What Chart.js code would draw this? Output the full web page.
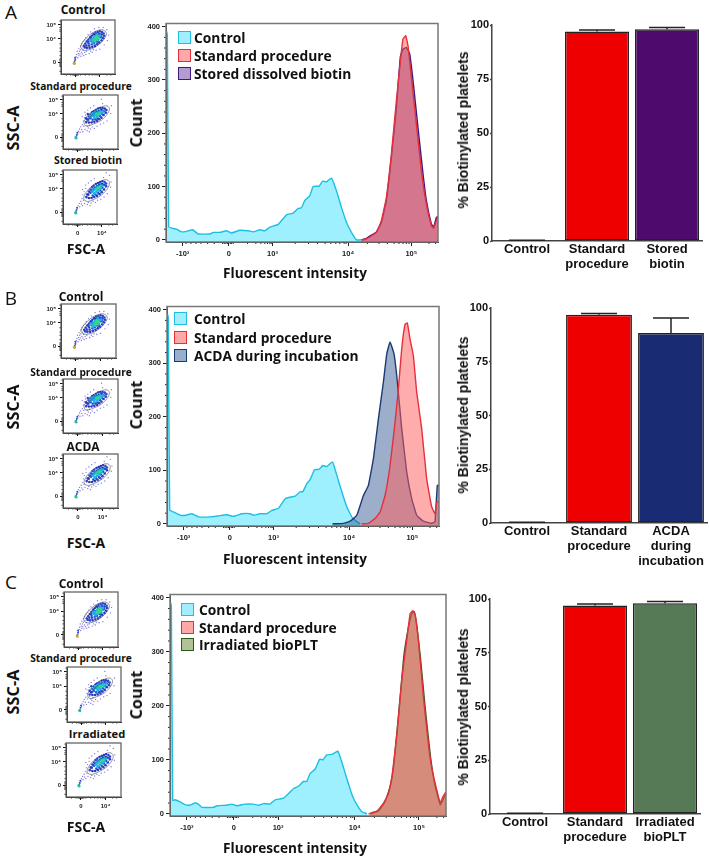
<!DOCTYPE html>
<html>
<head>
<meta charset="utf-8">
<title>Biotinylated platelets</title>
<script src="https://cdn.jsdelivr.net/npm/chart.js@4"></script>
<style>
  html, body { margin: 0; padding: 0; background: #fff; }
  #page { position: relative; width: 709px; height: 858px; overflow: hidden; }
  canvas { position: absolute; }
  canvas.dots { filter: blur(0.35px); }
  .txt { position: absolute; white-space: nowrap; color: #111; font-family: "Open Sans", sans-serif; font-weight: 700; transform: translate(-50%, -50%); }
  .swatch { position: absolute; box-sizing: border-box; width: 13px; height: 13px; border-width: 1.5px; border-style: solid; }
  .legend-text { position: absolute; white-space: nowrap; color: #111; font: 700 13.8px "Open Sans", sans-serif; transform: translateY(-50%); }
</style>
</head>
<body>
<div id="page"></div>
<script>
// Histogram data: x is the instrument channel (0-817 across the plot), y is the count
const controlAX = [1.5,4,8,17,32,47,62,80,97,132,142,162,182,197,222,247,262,282,297,312,337,362,382,397,407,417,432,442,460,470,482,497,512,527,542,557,572,587];
const controlAY = [392,385,24,22,20,15,16,19,11,11,14,14,17,13,18,17,15,19,17,24,29,47,50,59,60,74,83,100,101,110,109,116,92,61,33,14,0,0];
const standardAX = [587,602,632,647,662,677,692,704,712,720,727,737,752,767,782,797,804,812,817];
const standardAY = [0,2,14,36,80,161,261,336,377,383,364,305,217,130,67,27,22,36,42];
const storedX = [587,602,632,647,662,677,692,704,712,722,732,742,757,772,782,797,804,812,817];
const storedY = [0,3,15,33,74,155,248,344,358,361,349,299,210,124,74,30,24,42,44];

const controlBX = [1.5,4,8,20,40,55,75,95,130,155,180,200,225,250,260,280,300,315,335,355,385,400,408,420,430,443,457,468,480,497,510,525,540,558,580];
const controlBY = [392,385,26,22,16,16,19,13,13,15,17,14,19,19,16,19,19,25,29,47,52,60,60,75,83,101,102,109,107,116,91,60,32,10,0];
const standardBX = [585,605,625,640,655,670,685,695,705,715,722,730,740,750,765,780,795,805,810,818];
const standardBY = [0,1,10,22,53,109,190,252,327,373,375,345,314,246,178,84,32,19,41,42];
const acdaX = [497,530,550,570,590,605,620,635,650,660,670,682,692,705,720,735,750,770,795,805,812,818];
const acdaY = [0,1,5,16,53,72,122,196,265,317,340,317,265,178,97,47,16,5,1,4,72,72];

const controlCX = [1.5,4,8,15,30,44,59,74,84,94,128,140,168,183,198,222,247,262,277,296,311,336,366,380,395,405,415,430,443,453,464,479,497,509,524,539,553,568,583];
const controlCY = [392,385,25,26,22,17,16,20,18,12,12,15,16,18,15,18,18,16,19,18,26,29,47,51,60,60,75,83,101,100,109,110,116,95,64,35,17,4,0];
const standardCX = [588,613,632,647,657,672,687,702,711,719,726,736,751,766,776,791,800,808,817];
const standardCY = [0,5,20,38,69,149,254,328,371,376,368,316,211,124,81,41,20,32,41];
const irradiatedX = [593,618,637,652,662,677,692,706,716,723,731,741,756,771,785,800,808,817];
const irradiatedY = [0,6,23,51,88,186,291,346,371,374,346,291,192,106,51,17,26,38];

const histYTicks = [0,100,200,300,400];
const histYMinor = [20,40,60,80,120,140,160,180,220,240,260,280,320,340,360,380];
const histXTicks = [50,189,320,547,737];
const histXLabels = ['-10³','0','10³','10⁴','10⁵'];
const histXMinor = [60,75,90,105,125,145,170,175,180,185,193,197,202,245,270,285,297,305,312,316,388,428,455,478,495,510,522,535,541,605,640,665,685,700,712,722,730,790,810];

// Bar data
const barLabelsA = ['Control',['Standard','procedure'],['Stored','biotin']];
const barValuesA = [0.3,97,98];
const barErrorsA = [0.4,97.7,98.9];
const barLabelsB = ['Control',['Standard','procedure'],['ACDA','during','incubation']];
const barValuesB = [0.3,96.9,88.4];
const barErrorsB = [0.4,97.5,95.4];
const barLabelsC = ['Control',['Standard','procedure'],['Irradiated','bioPLT']];
const barValuesC = [0.3,97,98];
const barErrorsC = [0.4,97.7,98.8];
const barTicks = [0,25,50,75,100];

// Dot plots, both axes in channel percent. null entries break the contour line
const contourControl = [[36,50],[40,59],[47,67],[55,74],[64,79],[74,82],[81,80],[84,75],[82,68],[76,60],[68,53],[58,47],[48,44],[40,45],[36,50],null,[42,54],[50,64],[60,72],[72,76],[78,72],[73,62],[63,54],[52,50],[44,51],[42,54]];
const sparseControl = [[27,28],[28,32],[29,36],[31,30],[32,38],[33,34],[34,42],[35,37],[36,45],[37,33],[38,40],[39,48],[40,37],[41,44],[42,34],[44,40],[46,36],[47,42],[30,42],[33,47],[36,52],[38,56],[41,60],[44,63],[46,67],[52,38],[55,42],[58,40],[50,73],[55,78],[62,84],[70,86],[78,86],[85,82],[88,72],[86,62],[80,54],[72,46],[65,44],[60,45]];
const blueControl = [[42,52],[45,56],[48,60],[51,64],[54,68],[57,71],[60,74],[64,77],[68,78],[72,79],[76,78],[79,75],[80,71],[78,66],[75,62],[71,58],[67,55],[63,52],[58,50],[53,48],[48,48],[44,49],[47,53],[51,57],[55,61],[59,65],[63,69],[67,72],[71,74],[75,73],[73,68],[69,64],[65,60],[61,57],[57,55],[52,53],[50,60],[56,66],[62,73],[68,60],[74,70]];
const cyanControl = [[54,62],[57,64],[60,60],[63,63],[66,66],[69,69],[72,71],[62,68],[66,72],[58,58],[68,63]];
const greenControl = [[61,64],[64,66],[67,69],[63,61],[66,63],[69,66],[65,69]];
const originControl = [[25,22],[26,26],[26,30]];
const spotControl = [[24,20],[25,19]];

const contourStandard = [[38,50],[42,58],[50,67],[60,74],[70,78],[79,80],[84,76],[83,69],[76,59],[66,51],[55,46],[46,43],[40,44],[38,50],null,[44,53],[52,62],[62,70],[72,74],[78,71],[72,62],[62,54],[52,50],[46,49],[44,53]];
const sparseStandard = [[27,28],[28,33],[30,37],[31,31],[32,41],[34,36],[35,45],[36,32],[37,52],[38,42],[39,58],[40,36],[41,63],[42,47],[44,34],[46,39],[48,32],[50,37],[53,41],[57,38],[62,42],[35,60],[40,68],[45,72],[50,76],[56,80],[70,92],[72,84],[88,80],[87,66],[80,52],[74,48],[68,46],[44,42],[48,44]];
const blueStandard = [[42,50],[44,55],[47,60],[50,64],[53,68],[56,70],[60,72],[64,75],[68,76],[72,76],[76,75],[79,72],[78,67],[74,63],[70,58],[66,55],[62,52],[57,50],[52,49],[47,49],[46,54],[50,57],[53,62],[57,65],[60,67],[65,70],[70,72],[74,70],[71,65],[67,61],[63,57],[59,55],[54,54],[42,57],[45,65]];
const cyanStandard = [[50,60],[53,64],[56,61],[58,66],[60,63],[63,67],[65,64],[67,69],[69,66],[72,69],[62,60],[57,58],[55,66],[60,69]];
const greenStandard = [[60,65],[63,64],[66,66]];
const originStandard = [[24,22],[25,26],[26,30]];
const spotStandard = [[24,20],[23,21]];

const contourStored = [[38,48],[41,56],[48,65],[57,73],[68,78],[78,82],[85,79],[85,71],[79,61],[69,52],[58,46],[48,42],[41,43],[38,48],null,[44,52],[52,62],[62,70],[73,75],[80,72],[74,62],[63,54],[53,49],[46,48],[44,52]];
const sparseStored = [[27,29],[28,34],[30,38],[31,32],[33,42],[34,37],[35,47],[36,34],[37,54],[38,44],[39,60],[40,38],[42,66],[43,48],[45,36],[47,40],[50,34],[52,39],[56,42],[60,40],[64,44],[36,64],[42,72],[47,76],[52,80],[58,84],[80,95],[86,90],[75,86],[89,78],[88,68],[82,56],[76,50],[70,46]];
const blueStored = [[43,50],[45,55],[48,60],[51,64],[54,68],[57,71],[61,74],[65,76],[69,78],[73,79],[77,78],[80,75],[80,70],[76,64],[72,59],[68,55],[63,52],[58,50],[53,48],[48,48],[47,54],[51,58],[55,62],[59,66],[63,70],[67,73],[72,74],[76,72],[73,67],[69,62],[65,58],[60,55],[55,53]];
const cyanStored = [[54,60],[57,63],[60,66],[63,69],[66,70],[69,71],[72,71],[70,66],[66,63],[62,60],[58,57],[64,65]];
const greenStored = [[62,64],[65,67],[68,68]];

const miniYTicks = [22,65,91];
const miniYLabels = ['0','10⁴','10⁵'];
const miniYMinor = [98,86,82,79,56,48,42,34,28,26,24,20,18,16,14,5];
const miniXTicks = [27,72];
const miniXLabels = ['0','10⁴'];
const miniXMinor = [10,18,22,24,25,26,28,29,30,32,36,45,52,58,63,67,70,85,92];

const page = document.getElementById('page');

function text(str, x, y, css) {
    const el = document.createElement('div');
    el.className = 'txt';
    el.textContent = str;
    el.style.left = x + 'px';
    el.style.top = y + 'px';
    el.style.cssText += css;
    page.appendChild(el);
}

function rotated(str, x, y, css) {
    text(str, x, y, css + ';transform:translate(-50%,-50%) rotate(-90deg)');
}

function legend(entries, swatchX, textX, rowY) {
    entries.forEach((e, i) => {
        const box = document.createElement('div');
        box.className = 'swatch';
        box.style.left = swatchX + 'px';
        box.style.top = (rowY[i] - 6.5) + 'px';
        box.style.background = e.fill;
        box.style.borderColor = e.line;
        page.appendChild(box);
        const label = document.createElement('div');
        label.className = 'legend-text';
        label.textContent = e.name;
        label.style.left = textX + 'px';
        label.style.top = rowY[i] + 'px';
        page.appendChild(label);
    });
}

// Canvas placed so that the plot area lands on the given rectangle
function newCanvas(box, cls) {
    const c = document.createElement('canvas');
    c.width = box.w;
    c.height = box.h;
    c.style.left = box.x + 'px';
    c.style.top = box.y + 'px';
    if (cls) c.className = cls;
    page.appendChild(c);
    return c;
}

function baseOptions(box, area) {
    return {
        responsive: false,
        animation: false,
        devicePixelRatio: 1,
        events: [],
        layout: {
            autoPadding: false,
            padding: { left: 0, top: area.top - box.y, right: box.x + box.w - area.right, bottom: 0 }
        }
    };
}

// Draws the box around the plot and the short unlabelled ticks
const framePlugin = {
    id: 'frame',
    afterDraw(chart, args, opts) {
        const { ctx, chartArea: a, scales } = chart;
        ctx.save();
        ctx.strokeStyle = opts.minorColor || '#222';
        ctx.lineWidth = opts.minorWidth || 1;
        (opts.xMinor || []).forEach(v => {
            const px = scales.x.getPixelForValue(v);
            ctx.beginPath();
            ctx.moveTo(px, a.bottom);
            ctx.lineTo(px, a.bottom + opts.minorLength);
            ctx.stroke();
        });
        (opts.yMinor || []).forEach(v => {
            const py = scales.y.getPixelForValue(v);
            ctx.beginPath();
            ctx.moveTo(a.left, py);
            ctx.lineTo(a.left - opts.minorLength, py);
            ctx.stroke();
        });
        if (opts.color) {
            ctx.strokeStyle = opts.color;
            ctx.lineWidth = opts.width;
            ctx.strokeRect(a.left, a.top, a.right - a.left, a.bottom - a.top);
        }
        ctx.restore();
    }
};

const errorPlugin = {
    id: 'errorBars',
    afterDatasetsDraw(chart, args, opts) {
        const { ctx, scales } = chart;
        const values = chart.data.datasets[0].data;
        ctx.save();
        ctx.strokeStyle = '#222';
        ctx.lineWidth = 1.5;
        opts.tops.forEach((top, i) => {
            const x = scales.x.getPixelForValue(i);
            const y0 = scales.y.getPixelForValue(values[i]);
            const y1 = scales.y.getPixelForValue(top);
            ctx.beginPath();
            ctx.moveTo(x, y0);
            ctx.lineTo(x, y1);
            ctx.moveTo(x - 18, y1);
            ctx.lineTo(x + 18, y1);
            ctx.stroke();
        });
        ctx.restore();
    }
};

function pairs(xs, ys) {
    return xs.map((x, i) => ({ x: x, y: ys[i] }));
}

function histogram(area, series) {
    const box = { x: Math.floor(area.left) - 40, y: Math.floor(area.top) - 6, w: Math.ceil(area.right - area.left) + 48, h: Math.ceil(area.bottom - area.top) + 32 };
    const options = baseOptions(box, area);
    options.plugins = {
        legend: { display: false },
        tooltip: { enabled: false },
        frame: { color: '#777', width: 1.5, xMinor: histXMinor, yMinor: histYMinor, minorLength: 2 }
    };
    const tickFont = { family: '"Liberation Sans"', size: 7.5, weight: 'bold' };
    options.scales = {
        x: {
            type: 'linear', min: 0, max: 817,
            afterBuildTicks: s => { s.ticks = histXTicks.map(v => ({ value: v })); },
            afterFit: s => { s.height = box.y + box.h - area.bottom; },
            grid: { drawOnChartArea: false, tickLength: 4, tickColor: '#222' },
            border: { color: '#222' },
            ticks: { autoSkip: false, maxRotation: 0, padding: 3, color: '#222', font: tickFont,
                callback: v => histXLabels[histXTicks.indexOf(v)] }
        },
        y: {
            min: -4, max: 406,
            afterBuildTicks: s => { s.ticks = histYTicks.map(v => ({ value: v })); },
            afterFit: s => { s.width = area.left - box.x; },
            grid: { drawOnChartArea: false, tickLength: 4, tickColor: '#222' },
            border: { color: '#222' },
            ticks: { autoSkip: false, padding: 2, color: '#222', font: tickFont }
        }
    };
    return new Chart(newCanvas(box), {
        type: 'line',
        data: {
            datasets: series.map(s => ({
                label: s.name,
                data: pairs(s.x, s.y),
                borderColor: s.line,
                backgroundColor: s.fill,
                borderWidth: 1.4,
                fill: 'start',
                pointRadius: 0,
                tension: 0.1
            }))
        },
        options: options
    });
}

function barChart(area, labels, values, tops, color) {
    const box = { x: 468, y: Math.floor(area.top) - 8, w: 241, h: Math.ceil(area.bottom - area.top) + 66 };
    const options = baseOptions(box, area);
    options.plugins = {
        legend: { display: false },
        tooltip: { enabled: false },
        errorBars: { tops: tops }
    };
    options.scales = {
        x: {
            afterFit: s => { s.height = box.y + box.h - area.bottom; },
            grid: { display: false, tickLength: 0 },
            border: { color: '#444', width: 1.5 },
            ticks: { autoSkip: false, maxRotation: 0, padding: 1, color: '#111',
                font: { family: '"Liberation Sans"', size: 13, weight: 'bold', lineHeight: 1.15 } }
        },
        y: {
            min: 0, max: 100,
            afterBuildTicks: s => { s.ticks = barTicks.map(v => ({ value: v })); },
            afterFit: s => { s.width = area.left - box.x; },
            grid: { drawOnChartArea: false, tickLength: 2, tickColor: '#444', tickWidth: 1.5 },
            border: { color: '#444', width: 1.5 },
            ticks: { padding: 1, color: '#111', font: { family: '"Liberation Sans"', size: 11, weight: 'bold' } }
        }
    };
    return new Chart(newCanvas(box), {
        type: 'bar',
        data: {
            labels: labels,
            datasets: [{
                data: values,
                backgroundColor: ['#fff', '#EE0000', color],
                borderColor: '#222',
                borderWidth: 1.5,
                borderSkipped: false,
                barPercentage: 0.915,
                categoryPercentage: 1
            }]
        },
        plugins: [errorPlugin],
        options: options
    });
}

function toPoints(list) {
    return list.map(p => p ? { x: p[0], y: p[1] } : { x: NaN, y: NaN });
}

function dotPlot(area, profile, showXLabels) {
    const box = { x: Math.floor(area.left) - 22, y: Math.floor(area.top) - 6, w: Math.ceil(area.right - area.left) + 28, h: Math.ceil(area.bottom - area.top) + 24 };
    const options = baseOptions(box, area);
    options.plugins = {
        legend: { display: false },
        tooltip: { enabled: false },
        frame: { color: '#666', width: 1.3, xMinor: miniXMinor, yMinor: miniYMinor, minorLength: 1.5 }
    };
    const tickFont = { family: '"Liberation Sans"', size: 6, weight: 'bold' };
    options.scales = {
        x: {
            type: 'linear', min: 0, max: 100,
            afterBuildTicks: s => { s.ticks = miniXTicks.map(v => ({ value: v })); },
            afterFit: s => { s.height = box.y + box.h - area.bottom; },
            grid: { drawOnChartArea: false, tickLength: 3, tickColor: '#111' },
            border: { color: '#111' },
            ticks: { autoSkip: false, maxRotation: 0, padding: 3, color: '#222', font: tickFont,
                callback: v => showXLabels ? miniXLabels[miniXTicks.indexOf(v)] : '' }
        },
        y: {
            min: 0, max: 100,
            afterBuildTicks: s => { s.ticks = miniYTicks.map(v => ({ value: v })); },
            afterFit: s => { s.width = area.left - box.x; },
            grid: { drawOnChartArea: false, tickLength: 3, tickColor: '#111' },
            border: { color: '#111' },
            ticks: { autoSkip: false, padding: 2, color: '#222', font: tickFont,
                callback: v => miniYLabels[miniYTicks.indexOf(v)] }
        }
    };
    const dots = (list, color, r) => ({ data: toPoints(list), backgroundColor: color, borderWidth: 0, pointRadius: r });
    return new Chart(newCanvas(box, 'dots'), {
        type: 'scatter',
        data: {
            datasets: [
                { data: toPoints(profile.contour), showLine: true, borderColor: 'rgba(20,20,50,.75)', borderWidth: 0.6, pointRadius: 0, tension: 0.4 },
                dots(profile.spot, profile.spotColor, 1.3),
                dots(profile.green, '#35d68a', 1.3),
                dots(profile.cyan, '#18b4e6', 1.5),
                dots(profile.blue, '#2a48d8', 1.25),
                dots(profile.origin, '#2a50c8', 1),
                dots(profile.sparse, 'rgba(80,70,215,.7)', 0.7)
            ]
        },
        options: options
    });
}

Chart.register(framePlugin);

const cyan = { line: '#1CBFE2', fill: 'rgba(95,230,255,.6)' };
const red = { line: '#E5303C', fill: 'rgba(255,90,90,.5)' };
const purple = { line: '#3E1A80', fill: 'rgba(90,40,140,.5)' };
const navy = { line: '#1B3A75', fill: 'rgba(35,75,135,.45)' };
const green = { line: '#2F5A1E', fill: 'rgba(90,130,60,.5)' };

const profileControl = { contour: contourControl, sparse: sparseControl, blue: blueControl, cyan: cyanControl, green: greenControl, origin: originControl, spot: spotControl, spotColor: '#d7a030' };
const profileStandard = { contour: contourStandard, sparse: sparseStandard, blue: blueStandard, cyan: cyanStandard, green: greenStandard, origin: originStandard, spot: spotStandard, spotColor: '#20c0a0' };
const profileStored = { contour: contourStored, sparse: sparseStored, blue: blueStored, cyan: cyanStored, green: greenStored, origin: originStandard, spot: spotStandard, spotColor: '#20c0a0' };

// Panel A
text('A', 11, 12, 'font-size:19px;font-weight:400');
text('Control', 83, 9, 'font-size:12px');
text('Standard procedure', 81, 86, 'font-size:10.2px');
text('Stored biotin', 88, 160, 'font-size:10.5px');
dotPlot({ left: 61, right: 115, top: 20, bottom: 74 }, profileControl, false);
dotPlot({ left: 63, right: 118, top: 95, bottom: 149 }, profileStandard, false);
dotPlot({ left: 63, right: 117, top: 170, bottom: 224 }, profileStored, true);
rotated('SSC-A', 13, 128, 'font-size:16.3px');
text('FSC-A', 86, 248, 'font-size:14px');
histogram({ left: 166, right: 438, top: 23, bottom: 242 }, [
    { name: 'Standard procedure', x: standardAX, y: standardAY, line: red.line, fill: red.fill },
    { name: 'Stored dissolved biotin', x: storedX, y: storedY, line: purple.line, fill: purple.fill },
    { name: 'Control', x: controlAX, y: controlAY, line: cyan.line, fill: cyan.fill }
]);
legend([
    { name: 'Control', fill: '#A0EEFF', line: cyan.line },
    { name: 'Standard procedure', fill: '#FFA8A8', line: red.line },
    { name: 'Stored dissolved biotin', fill: '#B49BD2', line: purple.line }
], 177.5, 194, [37, 55, 73]);
rotated('Count', 136, 123, 'font-size:16.3px');
text('Fluorescent intensity', 295, 272, 'font-size:13.6px');
barChart({ left: 492, right: 702, top: 25, bottom: 241 }, barLabelsA, barValuesA, barErrorsA, '#4F0A6E');
rotated('% Biotinylated platelets', 463, 130, 'font:bold 14px "Liberation Sans"');

// Panel B
text('B', 11, 298, 'font-size:19px;font-weight:400');
text('Control', 81, 296, 'font-size:12px');
text('Standard procedure', 81, 372, 'font-size:10.2px');
text('ACDA', 83, 446, 'font-size:12px');
dotPlot({ left: 61, right: 116, top: 304, bottom: 358 }, profileControl, false);
dotPlot({ left: 63, right: 118, top: 379, bottom: 433 }, profileStandard, false);
dotPlot({ left: 63, right: 118, top: 454, bottom: 508 }, profileStored, true);
rotated('SSC-A', 13, 407, 'font-size:16.3px');
text('FSC-A', 86, 542, 'font-size:14px');
histogram({ left: 167, right: 439, top: 306, bottom: 526 }, [
    { name: 'Standard procedure', x: standardBX, y: standardBY, line: red.line, fill: red.fill },
    { name: 'ACDA during incubation', x: acdaX, y: acdaY, line: navy.line, fill: navy.fill },
    { name: 'Control', x: controlBX, y: controlBY, line: cyan.line, fill: cyan.fill }
]);
legend([
    { name: 'Control', fill: '#A0EEFF', line: cyan.line },
    { name: 'Standard procedure', fill: '#FFA8A8', line: red.line },
    { name: 'ACDA during incubation', fill: '#96AFCD', line: navy.line }
], 174, 194, [318, 337, 355]);
rotated('Count', 136, 405, 'font-size:16.3px');
text('Fluorescent intensity', 295, 558, 'font-size:13.6px');
barChart({ left: 491, right: 707, top: 308, bottom: 523 }, barLabelsB, barValuesB, barErrorsB, '#182B73');
rotated('% Biotinylated platelets', 463, 415, 'font:bold 14px "Liberation Sans"');

// Panel C
text('C', 11, 582, 'font-size:19px;font-weight:400');
text('Control', 81, 583, 'font-size:12px');
text('Standard procedure', 81, 658, 'font-size:10.2px');
text('Irradiated', 97, 733, 'font-size:11.2px');
dotPlot({ left: 64, right: 118, top: 592, bottom: 647 }, profileControl, false);
dotPlot({ left: 67, right: 121, top: 667, bottom: 722 }, profileStandard, false);
dotPlot({ left: 66, right: 121, top: 743, bottom: 797 }, profileStored, true);
rotated('SSC-A', 13, 692, 'font-size:16.3px');
text('FSC-A', 86, 826, 'font-size:14px');
histogram({ left: 170, right: 446, top: 594, bottom: 816 }, [
    { name: 'Standard procedure', x: standardCX, y: standardCY, line: red.line, fill: red.fill },
    { name: 'Irradiated bioPLT', x: irradiatedX, y: irradiatedY, line: green.line, fill: green.fill },
    { name: 'Control', x: controlCX, y: controlCY, line: cyan.line, fill: cyan.fill }
]);
legend([
    { name: 'Control', fill: '#A0EEFF', line: cyan.line },
    { name: 'Standard procedure', fill: '#FFA8A8', line: red.line },
    { name: 'Irradiated bioPLT', fill: '#AFC396', line: green.line }
], 180.5, 199, [609, 627, 644]);
rotated('Count', 136, 695, 'font-size:16.3px');
text('Fluorescent intensity', 295, 847, 'font-size:13.6px');
barChart({ left: 490, right: 700, top: 599, bottom: 814 }, barLabelsC, barValuesC, barErrorsC, '#567A55');
rotated('% Biotinylated platelets', 463, 707, 'font:bold 14px "Liberation Sans"');
</script>
</body>
</html>
